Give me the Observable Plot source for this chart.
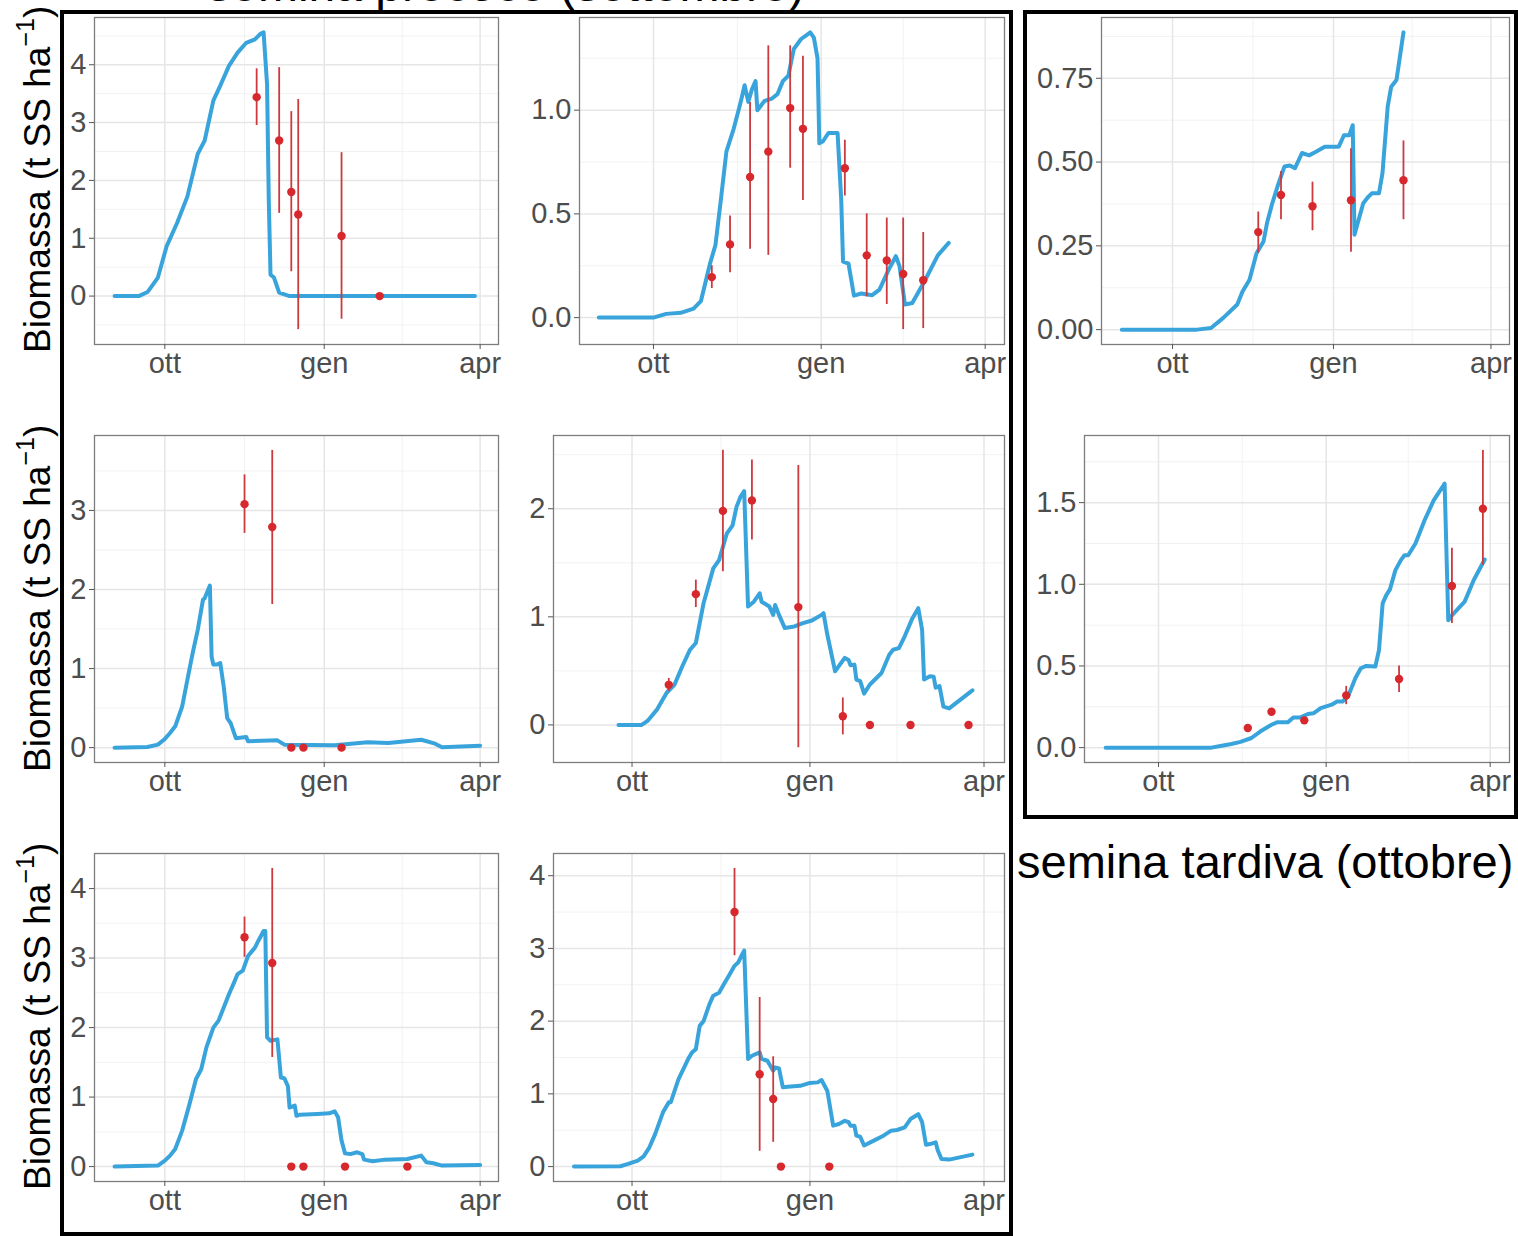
<!DOCTYPE html>
<html><head><meta charset="utf-8">
<script src="https://cdn.jsdelivr.net/npm/d3@7"></script>
<script src="https://cdn.jsdelivr.net/npm/@observablehq/plot@0.6"></script>
<style>
html,body{margin:0;padding:0;background:#fff;overflow:hidden;}
#page{position:relative;width:1518px;height:1236px;overflow:hidden;font-family:"Liberation Sans",Arial,sans-serif;background:#fff;}
.box{position:absolute;box-sizing:border-box;border:4px solid #000;}
.panel{position:absolute;}
.panel svg{max-width:none !important;}
.ytitle{position:absolute;transform:rotate(-90deg);transform-origin:0 0;white-space:nowrap;font-size:37px;line-height:37px;color:#000;}
.title{position:absolute;font-size:48px;line-height:48px;white-space:nowrap;color:#000;}
</style></head><body><div id="page"></div>
<script>
// ---------- data ----------
const xTickDates = ["10-01", "01-01", "04-01"];
const xTickLabels = ["ott", "gen", "apr"];
const titleLeft = "semina precoce (settembre)";
const titleRight = "semina tardiva (ottobre)";
const yTitle = "Biomassa (t SS ha";
const yTitleSup = "\u22121";

// simulated biomass [date, t/ha]
const sim1 = [["09-02",0],["09-16",0],["09-21",0.07],["09-27",0.32],["10-02",0.86],["10-08",1.26],["10-14",1.72],["10-20",2.46],["10-24",2.69],["10-29",3.38],["11-02",3.64],["11-07",3.98],["11-12",4.21],["11-17",4.38],["11-22",4.44],["11-25",4.53],["11-27",4.56],["11-29",3.67],["11-30",1.66],["12-01",0.37],["12-03",0.32],["12-06",0.06],["12-12",0],["03-29",0]];
const sim2 = [["09-01",0],["10-01",0],["10-08",0.018],["10-16",0.023],["10-23",0.043],["10-27",0.079],["11-01",0.26],["11-04",0.35],["11-07",0.57],["11-10",0.80],["11-14",0.91],["11-17",1.01],["11-18",1.045],["11-20",1.12],["11-22",1.04],["11-24",1.10],["11-26",1.14],["11-27",1.00],["12-01",1.045],["12-05",1.056],["12-08",1.077],["12-11",1.14],["12-14",1.166],["12-17",1.295],["12-21",1.343],["12-24",1.362],["12-26",1.375],["12-28",1.35],["12-30",1.25],["12-31",0.84],["01-02",0.85],["01-05",0.89],["01-10",0.89],["01-12",0.57],["01-13",0.27],["01-16",0.26],["01-19",0.106],["01-23",0.116],["01-29",0.108],["02-02",0.135],["02-07",0.23],["02-11",0.296],["02-13",0.248],["02-16",0.063],["02-20",0.07],["02-27",0.18],["03-06",0.30],["03-12",0.36]];
const sim3 = [["09-02",0],["10-15",0],["10-23",0.005],["10-30",0.035],["11-07",0.075],["11-10",0.114],["11-14",0.149],["11-18",0.228],["11-22",0.263],["11-24",0.318],["11-27",0.377],["11-30",0.427],["12-04",0.487],["12-07",0.49],["12-10",0.482],["12-14",0.527],["12-18",0.52],["12-22",0.531],["12-27",0.546],["01-04",0.546],["01-07",0.58],["01-10",0.58],["01-12",0.61],["01-13",0.283],["01-18",0.377],["01-21",0.397],["01-23",0.407],["01-27",0.407],["01-29",0.467],["02-01",0.666],["02-03",0.725],["02-06",0.745],["02-10",0.887]];
const sim4 = [["09-02",0],["09-21",0.008],["09-27",0.038],["10-01",0.11],["10-04",0.185],["10-07",0.27],["10-11",0.52],["10-14",0.857],["10-17",1.19],["10-20",1.49],["10-23",1.87],["10-24",1.89],["10-27",2.05],["10-28",1.15],["10-29",1.05],["10-31",1.05],["11-02",1.07],["11-04",0.77],["11-06",0.374],["11-08",0.31],["11-11",0.12],["11-17",0.134],["11-18",0.08],["12-05",0.092],["12-09",0.038],["01-07",0.03],["01-26",0.067],["02-07",0.06],["02-26",0.10],["03-06",0.05],["03-10",0.004],["04-01",0.025]];
const sim5 = [["09-24",0],["10-06",0],["10-09",0.037],["10-14",0.144],["10-19",0.30],["10-23",0.374],["10-27",0.543],["10-31",0.696],["11-03",0.758],["11-07",1.126],["11-12",1.448],["11-15",1.525],["11-19",1.77],["11-22",1.847],["11-24",2.015],["11-26",2.107],["11-28",2.163],["11-30",1.095],["12-03",1.14],["12-06",1.218],["12-07",1.14],["12-11",1.095],["12-13",1.018],["12-14",1.11],["12-16",1.018],["12-19",0.896],["12-24",0.911],["12-28",0.94],["01-02",0.966],["01-07",1.018],["01-08",1.034],["01-10",0.834],["01-14",0.497],["01-19",0.62],["01-21",0.60],["01-22",0.552],["01-24",0.558],["01-25",0.42],["01-27",0.405],["01-29",0.29],["02-01",0.374],["02-07",0.48],["02-11",0.65],["02-13",0.696],["02-16",0.71],["02-19",0.82],["02-23",0.988],["02-26",1.08],["02-28",0.88],["03-01",0.42],["03-04",0.45],["03-06",0.445],["03-07",0.344],["03-09",0.36],["03-11",0.169],["03-14",0.153],["03-26",0.32]];
const sim6 = [["09-02",0],["10-30",0],["11-04",0.01],["11-10",0.022],["11-15",0.035],["11-21",0.059],["11-26",0.10],["12-02",0.14],["12-05",0.155],["12-11",0.155],["12-14",0.185],["12-18",0.185],["12-22",0.206],["12-25",0.21],["12-29",0.242],["01-04",0.263],["01-07",0.283],["01-10",0.283],["01-13",0.313],["01-17",0.425],["01-20",0.486],["01-23",0.50],["01-28",0.497],["01-30",0.598],["02-01",0.883],["02-03",0.934],["02-05",0.969],["02-08",1.087],["02-11",1.148],["02-13",1.178],["02-15",1.178],["02-19",1.25],["02-24",1.392],["03-01",1.514],["03-07",1.616],["03-09",0.78],["03-11",0.81],["03-18",0.894],["03-23",1.026],["03-29",1.152]];
const sim7 = [["09-02",0],["09-27",0.014],["10-01",0.086],["10-04",0.158],["10-07",0.254],["10-11",0.517],["10-15",0.877],["10-19",1.26],["10-22",1.40],["10-25",1.715],["10-29",2.0],["11-01",2.10],["11-04",2.29],["11-07",2.48],["11-10",2.65],["11-12",2.77],["11-15",2.82],["11-18",3.03],["11-22",3.15],["11-24",3.25],["11-27",3.39],["11-28",3.39],["11-29",1.86],["12-01",1.81],["12-05",1.83],["12-07",1.28],["12-09",1.27],["12-11",1.16],["12-12",0.85],["12-15",0.877],["12-16",0.73],["12-18",0.747],["12-28",0.757],["01-04",0.766],["01-07",0.795],["01-09",0.71],["01-11",0.374],["01-13",0.19],["01-16",0.18],["01-20",0.206],["01-23",0.18],["01-24",0.10],["01-29",0.077],["02-05",0.10],["02-18",0.11],["02-26",0.158],["03-01",0.062],["03-05",0.048],["03-10",0.014],["04-01",0.024]];
const sim8 = [["09-01",0],["09-25",0.005],["09-29",0.037],["10-04",0.082],["10-07",0.14],["10-10",0.265],["10-13",0.45],["10-17",0.746],["10-20",0.883],["10-21",0.883],["10-25",1.20],["10-30",1.478],["11-01",1.57],["11-03",1.615],["11-05",1.935],["11-07",2.0],["11-10",2.23],["11-12",2.35],["11-15",2.39],["11-18",2.53],["11-20",2.62],["11-23",2.76],["11-25",2.81],["11-27",2.92],["11-28",2.97],["11-30",1.48],["12-02",1.524],["12-06",1.57],["12-07",1.48],["12-10",1.455],["12-12",1.364],["12-13",1.32],["12-14",1.364],["12-16",1.35],["12-18",1.09],["12-22",1.10],["12-27",1.11],["01-01",1.15],["01-05",1.158],["01-07",1.19],["01-10",1.04],["01-13",0.563],["01-16",0.586],["01-19",0.63],["01-21",0.61],["01-22",0.56],["01-24",0.563],["01-25",0.425],["01-27",0.41],["01-29",0.29],["02-03",0.357],["02-08",0.425],["02-12",0.494],["02-15",0.503],["02-19",0.54],["02-22",0.654],["02-26",0.72],["02-28",0.61],["03-02",0.30],["03-04",0.31],["03-07",0.334],["03-08",0.23],["03-10",0.105],["03-14",0.096],["03-26",0.165]];

// observed biomass [date, mean, lower, upper]
const obs1 = [["11-23",3.44,2.95,3.93],["12-06",2.69,1.43,3.95],["12-13",1.80,0.42,3.19],["12-17",1.41,-0.58,3.40],["01-11",1.04,-0.40,2.48],["02-02",0,0,0]];
const obs2 = [["11-02",0.195,0.14,0.25],["11-12",0.353,0.216,0.49],["11-23",0.678,0.33,1.037],["12-03",0.80,0.30,1.31],["12-15",1.01,0.72,1.31],["12-22",0.91,0.565,1.26],["01-14",0.72,0.586,0.855],["01-26",0.30,0.10,0.50],["02-06",0.275,0.063,0.48],["02-15",0.21,-0.058,0.48],["02-26",0.18,-0.053,0.41]];
const obs3 = [["11-19",0.291,0.228,0.351],["12-02",0.402,0.328,0.472],["12-20",0.368,0.295,0.44],["01-11",0.386,0.231,0.54],["02-10",0.446,0.328,0.563]];
const obs4 = [["11-16",3.08,2.71,3.45],["12-02",2.79,1.81,3.76],["12-13",0,0,0],["12-20",0,0,0],["01-11",0,0,0]];
const obs5 = [["10-20",0.371,0.31,0.43],["11-03",1.21,1.086,1.34],["11-17",1.98,1.417,2.54],["12-02",2.077,1.71,2.45],["12-26",1.09,-0.21,2.40],["01-18",0.08,-0.092,0.25],["02-01",0,0,0],["02-22",0,0,0],["03-24",0,0,0]];
const obs6 = [["11-19",0.12,0.12,0.12],["12-02",0.22,0.22,0.22],["12-20",0.167,0.167,0.167],["01-12",0.32,0.263,0.375],["02-10",0.42,0.338,0.50],["03-11",0.99,0.76,1.22],["03-28",1.463,1.117,1.82]];
const obs7 = [["11-16",3.30,3.01,3.59],["12-02",2.93,1.57,4.29],["12-13",0,0,0],["12-20",0,0,0],["01-13",0,0,0],["02-18",0,0,0]];
const obs8 = [["11-23",3.50,2.90,4.10],["12-06",1.27,0.21,2.325],["12-13",0.93,0.334,1.51],["12-17",0,0,0],["01-11",0,0,0]];

// y tick values per panel
const yTicks1 = [0,1,2,3,4];
const yTicks2 = [0,0.5,1.0];
const yTicks3 = [0,0.25,0.5,0.75];
const yTicks4 = [0,1,2,3];
const yTicks5 = [0,1,2];
const yTicks6 = [0,0.5,1.0,1.5];
const yTicks7 = [0,1,2,3,4];
const yTicks8 = [0,1,2,3,4];

// ---------- layout & style ----------
const sims = [sim1,sim2,sim3,sim4,sim5,sim6,sim7,sim8];
const obss = [obs1,obs2,obs3,obs4,obs5,obs6,obs7,obs8];
const yTickSets = [yTicks1,yTicks2,yTicks3,yTicks4,yTicks5,yTicks6,yTicks7,yTicks8];
const yFormats = ["d",".1f",".2f","d","d",".1f","d","d"];
// frame [left, top, right, bottom] in page pixels
const frames = [
  [94,17,498,344],[579,17,1004,344],[1101,17,1509,344],
  [94,435,498,762],[553,435,1004,762],[1084,435,1509,762],
  [94,853,498,1181],[553,853,1004,1181]
];
const BLUE = "#39a4db", RED = "#d7282d", BAR = "#cc3a3e";
const FONT = "'Liberation Sans', Arial, Helvetica, sans-serif";

const toDate = s => { const [m,d] = s.split("-").map(Number); return new Date(Date.UTC(m >= 8 ? 2017 : 2018, m-1, d)); };

const page = document.getElementById("page");
function addDiv(cls, css, html) {
  const el = document.createElement("div");
  el.className = cls; Object.assign(el.style, css); el.innerHTML = html; page.appendChild(el); return el;
}

// boxes
addDiv("box", {left:"60px", top:"10px", width:"953px", height:"1226px"}, "");
addDiv("box", {left:"1023px", top:"10px", width:"495px", height:"809px"}, "");

// titles
addDiv("title", {left:"506px", top:"-39px", transform:"translateX(-50%)"}, titleLeft);
addDiv("title", {left:"1017px", top:"838px", fontSize:"47px", lineHeight:"47px"}, titleRight);

// y-axis titles (one per row)
[353, 772, 1190].forEach(y => {
  addDiv("ytitle", {left:"19px", top: y + "px"},
    yTitle + '<span style="font-size:0.68em;position:relative;top:-0.62em">' + yTitleSup + '</span>)');
});

// shared x domain (ggplot 5% expansion)
const allDates = sims.flatMap(s => s.map(d => toDate(d[0]))).concat(obss.flatMap(o => o.map(d => toDate(d[0]))));
const [dx0, dx1] = d3.extent(allDates);
const xpad = (dx1 - dx0) * 0.05;
const xDomain = [new Date(+dx0 - xpad), new Date(+dx1 + xpad)];
const xMajor = xTickDates.map(toDate);
const xLabelMap = new Map(xMajor.map((d,i) => [+d, xTickLabels[i]]));
const xMinor = d3.pairs(xMajor).map(([a,b]) => new Date((+a + +b)/2))
  .concat([new Date(+xMajor[0] - (xMajor[1]-xMajor[0])/2)])
  .filter(d => d >= xDomain[0] && d <= xDomain[1]);

const ML = 75, MT = 10, MR = 25, MB = 45;

sims.forEach((simRaw, i) => {
  const sim = simRaw.map(([d,v]) => ({date: toDate(d), value: v}));
  const obs = obss[i].map(([d,v,lo,hi]) => ({date: toDate(d), value: v, lo, hi}));
  const bars = obs.filter(d => d.hi > d.lo);
  const vals = sim.map(d => d.value).concat(obs.flatMap(d => [d.value, d.lo, d.hi]));
  const [y0, y1] = d3.extent(vals);
  const ypad = (y1 - y0) * 0.05;
  const yDomain = [y0 - ypad, y1 + ypad];
  const yT = yTickSets[i];
  const step = yT[1] - yT[0];
  const yMinor = d3.range(yT[0] - step/2, yDomain[1] + step, step).filter(v => v >= yDomain[0] && v <= yDomain[1]);
  const [fl, ft, fr, fb] = frames[i];
  const width = (fr - fl) + ML + MR, height = (fb - ft) + MT + MB;

  const svg = Plot.plot({
    width, height,
    marginLeft: ML, marginTop: MT, marginRight: MR, marginBottom: MB,
    style: {fontFamily: FONT, fontSize: "29px", color: "#4d4d4d", background: "transparent", overflow: "visible", maxWidth: "none"},
    x: {type: "utc", domain: xDomain},
    y: {domain: yDomain},
    marks: [
      Plot.gridX(xMinor, {stroke: "#f0f0f0", strokeOpacity: 1, strokeWidth: 0.9}),
      Plot.gridY(yMinor, {stroke: "#f0f0f0", strokeOpacity: 1, strokeWidth: 0.9}),
      Plot.gridX(xMajor, {stroke: "#e6e6e6", strokeOpacity: 1, strokeWidth: 1.5}),
      Plot.gridY(yT, {stroke: "#e6e6e6", strokeOpacity: 1, strokeWidth: 1.5}),
      Plot.frame({stroke: "#7d7d7d", strokeWidth: 1.3}),
      Plot.axisX(xMajor, {tickFormat: d => xLabelMap.get(+d), tickSize: 5, tickPadding: 3, label: null, stroke: "#555"}),
      Plot.axisY(yT, {tickFormat: d3.format(yFormats[i]), tickSize: 5, tickPadding: 3, label: null, stroke: "#555"}),
      Plot.line(sim, {x: "date", y: "value", stroke: BLUE, strokeWidth: 4, strokeLinejoin: "round", strokeLinecap: "round"}),
      Plot.ruleX(bars, {x: "date", y1: "lo", y2: "hi", stroke: BAR, strokeWidth: 1.8}),
      Plot.dot(obs, {x: "date", y: "value", r: 4.2, fill: RED, stroke: "none"})
    ]
  });
  const wrap = document.createElement("div");
  wrap.className = "panel";
  wrap.style.left = (fl - ML) + "px";
  wrap.style.top = (ft - MT) + "px";
  wrap.style.width = width + "px";
  wrap.style.height = height + "px";
  wrap.appendChild(svg);
  page.appendChild(wrap);
});
</script></body></html>
